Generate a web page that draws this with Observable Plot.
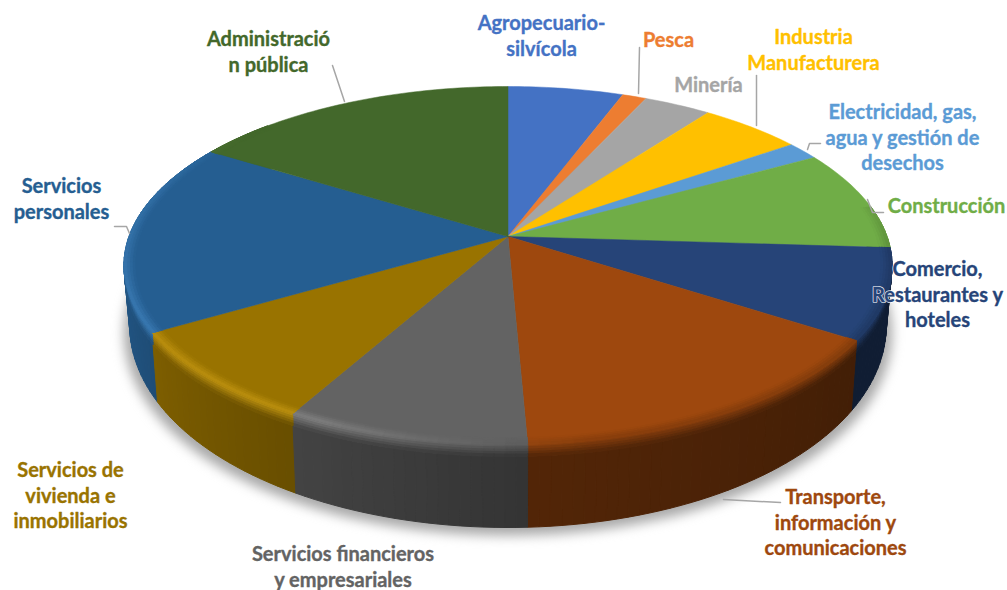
<!DOCTYPE html>
<html lang="es">
<head>
<meta charset="utf-8">
<script src="https://cdn.jsdelivr.net/npm/d3@7"></script>
<script src="https://cdn.jsdelivr.net/npm/@observablehq/plot@0.6"></script>
<style>
html,body{margin:0;padding:0;background:#fff}
svg{display:block;background:#fff}
</style>
</head>
<body>
<div id="chart"></div>
<script>
// ---- data (share of total, %, clockwise from 12 o'clock)
const categories = ["Agropecuario-silvícola","Pesca","Minería","Industria Manufacturera","Electricidad, gas, agua y gestión de desechos","Construcción","Comercio, Restaurantes y hoteles","Transporte, información y comunicaciones","Servicios financieros y empresariales","Servicios de vivienda e inmobiliarios","Servicios personales","Administración pública"];
const shares = [5.67,1.19,3.31,5.06,1.64,9.14,8.17,15.14,8.81,8.42,17.31,16.17];
const colors = ["#4472C4","#ED7D31","#A5A5A5","#FFC000","#5B9BD5","#70AD47","#264478","#9E480E","#636363","#997300","#255E91","#43682B"];
const labelLines = ["Agropecuario-\nsilvícola","Pesca","Minería","Industria\nManufacturera","Electricidad, gas,\nagua y gestión de\ndesechos","Construcción","Comercio,\nRestaurantes y\nhoteles","Transporte,\ninformación y\ncomunicaciones","Servicios financieros\ny empresariales","Servicios de\nvivienda e\ninmobiliarios","Servicios\npersonales","Administració\nn pública"];
const labelX = [541,668,708,813,902,946,937,835,342.5,70,61,268];
const labelY = [34,38,83,48,136,204,293,521,565,494,197,50];
const leaderPaths = [
  [[639,47],[638,93]],
  [[756,75],[756,125]],
  [[807,149],[809,143],[820,143]],
  [[867,199],[872,212],[883,212]],
  [[723,499],[780,502]],
  [[114,226],[126,226],[129,233]],
  [[332,65],[344,101]]
];

// ---- perspective view of the pie disc
const view = {x0:507.5, y0:236, R:379, B:174.3, k:0.162, inset:0.985};
const wallDepth = v => 55 + 28 * Math.max(0, -v);
function project(theta, r = 1, d = 0, inset = view.inset) {
  const u = r * Math.sin(theta), v = r * Math.cos(theta), w = 1 + view.k * v;
  const D = wallDepth(Math.cos(theta));
  const s = 1 - (1 - inset) * d / D;
  return [view.x0 + view.R * u / w * s, view.y0 - view.B * v / w + d];
}
const deg = Math.PI / 180;
const arcs = d3.pie().sort(null).value(d => d)(shares);

const shade = d3.scaleLinear().domain([85,123,177,209,240,270,300]).range([.45,.42,.52,.68,.82,.95,1]).clamp(true);
const glow = d3.scaleLinear().domain([170,205,245,285,310]).range([0,1,1,.6,0]).clamp(true);
const soften = d3.scaleLinear().domain([60,95,170,205]).range([0,.3,.3,0]).clamp(true);
const mix = (a,b,t) => d3.interpolateRgb(a,b)(t);

const wallPts = [], outerPts = [], innerPts = [], topPts = [], shadowPts = [];
const bevelDepth = 12, step = 1.5;

d3.range(0,361,2).forEach(a => {
  const p = project(a*deg, 1.0, wallDepth(Math.cos(a*deg)) + 8, 1);
  shadowPts.push({x:p[0], y:p[1]});
});

arcs.forEach((arc,i) => {
  const base = colors[i];
  const bright = mix(d3.rgb(base).brighter(.5).toString(),"#fff",.06);
  const a0 = arc.startAngle/deg, a1 = arc.endAngle/deg;
  // top face
  topPts.push({id:i, fill:base, x:view.x0, y:view.y0});
  const n = Math.max(2, Math.ceil(a1-a0));
  d3.range(n+1).forEach(j => {
    const p = project((a0+(a1-a0)*j/n)*deg);
    topPts.push({id:i, fill:base, x:p[0], y:p[1]});
  });
  topPts.push({id:i, fill:base, x:view.x0, y:view.y0});
  // side wall and bevel, as narrow strips
  const lo = Math.max(a0,80), hi = Math.min(a1,315);
  if (hi <= lo) return;
  const m = Math.max(1, Math.ceil((hi-lo)/step));
  d3.range(m).forEach(j => {
    const t0 = (lo+(hi-lo)*j/m), t1 = (lo+(hi-lo)*(j+1)/m), tm = (t0+t1)/2;
    const wall = d3.rgb(base);
    const sh = shade(tm);
    const wallColor = d3.rgb(wall.r*sh, wall.g*sh, wall.b*sh).toString();
    const rim = mix(mix(base,bright,glow(tm)), wallColor, soften(tm));
    const quad = (store,id,fill,pa,pb,pc,pd) => [pa,pb,pc,pd,pa].forEach(p => store.push({id,fill,order:Math.abs(tm-180),x:p[0],y:p[1]}));
    const ra = t0*deg, rb = t1*deg;
    // plain wall
    quad(wallPts,`w${i}-${j}`,wallColor,project(ra,1,bevelDepth),project(rb,1,bevelDepth),project(rb,1,wallDepth(Math.cos(rb))),project(ra,1,wallDepth(Math.cos(ra))));
    // outer bevel
    const nb = 5;
    d3.range(nb).forEach(b => {
      const d0 = bevelDepth*b/nb, d1 = bevelDepth*(b+1)/nb;
      quad(outerPts,`o${i}-${j}-${b}`,mix(rim,wallColor,(b+.5)/nb),project(ra,1,d0),project(rb,1,d0),project(rb,1,d1),project(ra,1,d1));
    });
    // inner bevel, on the top face
    const ni = 4;
    d3.range(ni).forEach(b => {
      const r0 = .972+.028*b/ni, r1 = .972+.028*(b+1)/ni;
      quad(innerPts,`i${i}-${j}-${b}`,mix(base,rim,(b+.5)/ni),project(ra,r0),project(rb,r0),project(rb,r1),project(ra,r1));
    });
  });
});
wallPts.sort((a,b) => b.order-a.order);

const leaderPts = leaderPaths.flatMap((path,id) => path.map(p => ({id,x:p[0],y:p[1]})));
const labels = categories.map((c,i) => ({name:c, text:labelLines[i], x:labelX[i], y:labelY[i], fill:colors[i]}));

const poly = (data,extra={}) => Plot.line(data,{x:"x",y:"y",z:"id",fill:"fill",stroke:"fill",strokeWidth:1,curve:"linear",...extra});
const textStyle = {x:"x",y:"y",text:"text",fontFamily:"Lato",fontWeight:700,fontSize:20,lineHeight:1.285,textAnchor:"middle"};

const chart = Plot.plot({
  width:1007, height:590, margin:0,
  x:{domain:[0,1007],range:[0,1007],axis:null},
  y:{domain:[0,590],range:[0,590],axis:null},
  style:{background:"#fff"},
  marks:[
    Plot.line(shadowPts,{x:"x",y:"y",fill:"#a8a8a8",stroke:"none",curve:"linear",imageFilter:"blur(6px)"}),
    poly(wallPts),
    poly(outerPts),
    poly(topPts,{strokeWidth:.5}),
    poly(innerPts),
    Plot.line(leaderPts,{x:"x",y:"y",z:"id",stroke:"#a6a6a6",strokeWidth:1.5,curve:"linear"}),
    Plot.text(labels,{...textStyle,fill:"#fff",stroke:"#fff",strokeWidth:1.6}),
    Plot.text(labels,{...textStyle,fill:"fill",stroke:"fill",strokeWidth:.35})
  ]
});
document.getElementById("chart").appendChild(chart);
</script>
</body>
</html>
